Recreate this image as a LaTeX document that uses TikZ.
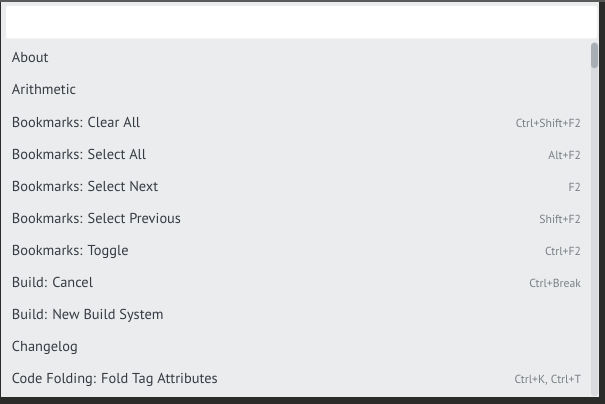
\documentclass[tikz,border=0pt]{standalone}
\usepackage{fontspec}
\setmainfont{PT Sans}
\usepackage{tikz}
\usetikzlibrary{positioning}
\usepackage{xcolor}
\definecolor{framedark}{HTML}{2B2B2A}
\definecolor{frametop}{HTML}{5A5A5A}
\definecolor{panelgray}{HTML}{EBECEE}
\definecolor{itemtext}{HTML}{363B43}
\definecolor{keytext}{HTML}{7A7F87}
\definecolor{trackgray}{HTML}{D9DBDE}
\definecolor{thumbgray}{HTML}{A9ADB4}

\begin{document}
\begin{tikzpicture}[x=1pt, y=-1pt,
item/.style = {
anchor=west,
inner sep=0pt,
outer sep=0pt,
text height=10pt,
text depth=3pt,
text=itemtext,
font=\fontsize{14.4}{17}\selectfont
},
keys/.style = {
anchor=base east,
inner sep=0pt,
outer sep=0pt,
text=keytext,
font=\fontsize{11.7}{14}\selectfont
},
node distance=19pt]

% frame and panel
\useasboundingbox (0,0) rectangle (605,404);
\fill [framedark] (0,0) rectangle (605,404);
\fill [frametop] (0,0) rectangle (605,2);
\fill [panelgray] (1,2) rectangle (599,397);

% search box
\fill [white, rounded corners=2pt] (6,6) rectangle (597,38.5);

% scroll bar
\fill [trackgray, rounded corners=3pt] (591,42) rectangle (598,396);
\fill [thumbgray, rounded corners=3pt] (591,43) rectangle (598,68);

% commands
\node [item] (about) at (12,59.5) {About};
\node [item, below = of about.south west, anchor=north west] (arith) {Arithmetic};
\node [item, below = of arith.south west, anchor=north west] (clear) {Bookmarks: Clear All};
\node [item, below = of clear.south west, anchor=north west] (selall) {Bookmarks: Select All};
\node [item, below = of selall.south west, anchor=north west] (selnext) {Bookmarks: Select Next};
\node [item, below = of selnext.south west, anchor=north west] (selprev) {Bookmarks: Select Previous};
\node [item, below = of selprev.south west, anchor=north west] (toggle) {Bookmarks: Toggle};
\node [item, below = of toggle.south west, anchor=north west] (cancel) {Build: Cancel};
\node [item, below = of cancel.south west, anchor=north west] (newbuild) {Build: New Build System};
\node [item, below = of newbuild.south west, anchor=north west] (changelog) {Changelog};
\node [item, below = of changelog.south west, anchor=north west] (fold) {Code Folding: Fold Tag Attributes};

% key bindings
\coordinate (keyedge) at (581,0);
\node [keys] (kclear) at (clear.base -| keyedge) {Ctrl+Shift+F2};
\node [keys] (kselall) at (selall.base -| keyedge) {Alt+F2};
\node [keys] (kselnext) at (selnext.base -| keyedge) {F2};
\node [keys] (kselprev) at (selprev.base -| keyedge) {Shift+F2};
\node [keys] (ktoggle) at (toggle.base -| keyedge) {Ctrl+F2};
\node [keys] (kcancel) at (cancel.base -| keyedge) {Ctrl+Break};
\node [keys] (kfold) at (fold.base -| keyedge) {Ctrl+K, Ctrl+T};

\end{tikzpicture}
\end{document}
